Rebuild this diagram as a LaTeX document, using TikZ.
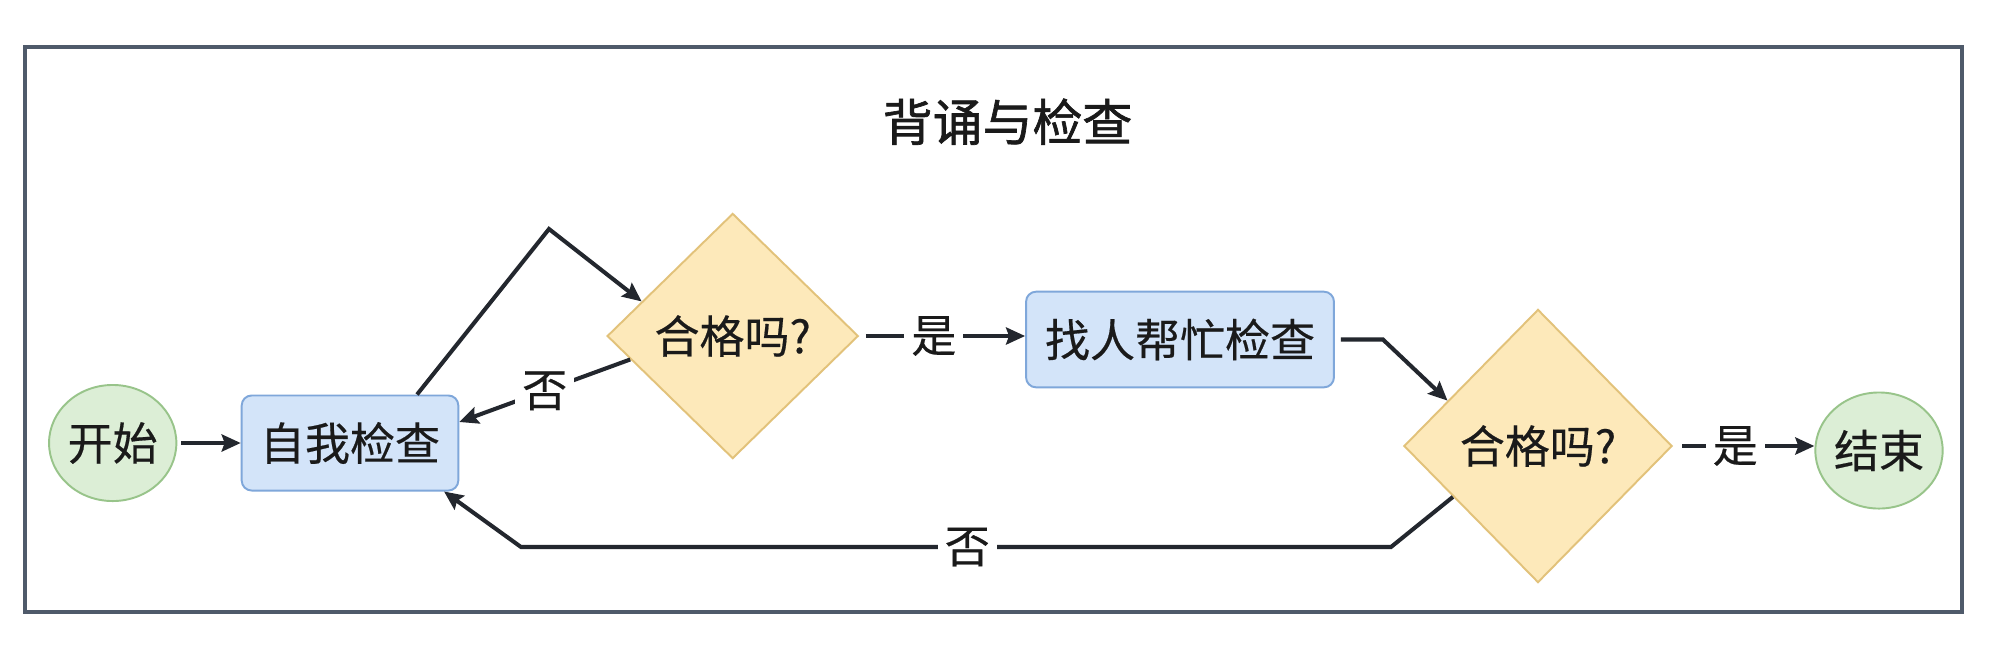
\documentclass[tikz,border=0pt]{standalone}
\usepackage{fontspec}
\setmainfont{Noto Sans CJK SC}[FakeBold=0.4]
\newfontfamily\ttlfont{Noto Sans CJK SC}[FakeBold=1.3]
\usetikzlibrary{shapes.geometric,arrows.meta,calc}
\definecolor{framec}{HTML}{4F5A6A}
\definecolor{txt}{HTML}{1A1A1A}
\definecolor{linec}{HTML}{23272E}
\definecolor{bluef}{HTML}{D3E4F9}
\definecolor{blueb}{HTML}{7FA7DA}
\definecolor{greenf}{HTML}{DCEED6}
\definecolor{greenb}{HTML}{98C48A}
\definecolor{yelf}{HTML}{FDE9BA}
\definecolor{yelb}{HTML}{E2C27A}
\tikzset{
  base/.style={font=\fontsize{12.8}{15}\selectfont, text=txt, inner sep=0pt},
  term/.style={base, ellipse, draw=greenb, fill=greenf, line width=0.55pt, minimum width=1.18cm, minimum height=1.16cm},
  proc/.style={base, rectangle, rounded corners=0.1cm, draw=blueb, fill=bluef, line width=0.55pt},
  decis/.style={base, diamond, draw=yelb, fill=yelf, line width=0.55pt},
  conn/.style={draw=linec, line width=1.15pt, -{Stealth[length=0.19cm,width=0.17cm,inset=0.03cm]}},
  lbl/.style={base, fill=white, inner sep=0.07cm},
  ttl/.style={font=\ttlfont\fontsize{14.2}{17}\selectfont, text=txt, inner sep=0pt},
}
\begin{document}
\begin{tikzpicture}[x=0.01cm,y=-0.01cm]
\fill[white] (0,0) rectangle (2000,669);
\useasboundingbox (0,0) rectangle (2000,669);
\draw[framec, line width=1pt] (25,47) rectangle (1962,612);
\node[ttl] (title) at (1007.5,121.7) {背诵与检查};
\node[term] (start) at (112.7,443) {开始};
\node[proc, minimum width=2.165cm, minimum height=0.95cm] (self) at (350,443) {自我检查};
\node[decis, minimum width=2.51cm, minimum height=2.45cm] (d1) at (732.7,336) {合格吗?};
\node[proc, minimum width=3.077cm, minimum height=0.956cm] (help) at (1180,339.5) {找人帮忙检查};
\node[decis, minimum width=2.68cm, minimum height=2.73cm] (d2) at (1538,446) {合格吗?};
\node[term] (end) at (1879,450.5) {结束};
\coordinate (apex1) at (549,229);
\coordinate (c2) at (1391,547);
\coordinate (c3) at (521,547);
\draw[conn, shorten <=0.04cm] (start) -- (self);
\draw[conn] ([xshift=0.67cm]self.north) -- (apex1) -- ($(d1.west)!0.28!(d1.north)$);
\draw[conn] ($(d1.west)!0.19!(d1.south)$) -- node[lbl]{否} ([yshift=0.21cm]self.east);
\draw[conn, shorten <=0.066cm] (d1.east) -- node[lbl,pos=0.45]{是} (d1.east -| help.west);
\draw[conn] ([xshift=0.06cm]help.east) -- ++(0.42cm,0) -- ($(d2.west)!0.33!(d2.north)$);
\draw[conn, shorten <=0.09cm] (d2.east) -- node[lbl,pos=0.44]{是} (d2.east -| end.west);
\draw[conn] ($(d2.west)!0.37!(d2.south)$) -- (c2) -- node[lbl,pos=0.487]{否} (c3) -- ([xshift=0.94cm]self.south);
\end{tikzpicture}
\end{document}
